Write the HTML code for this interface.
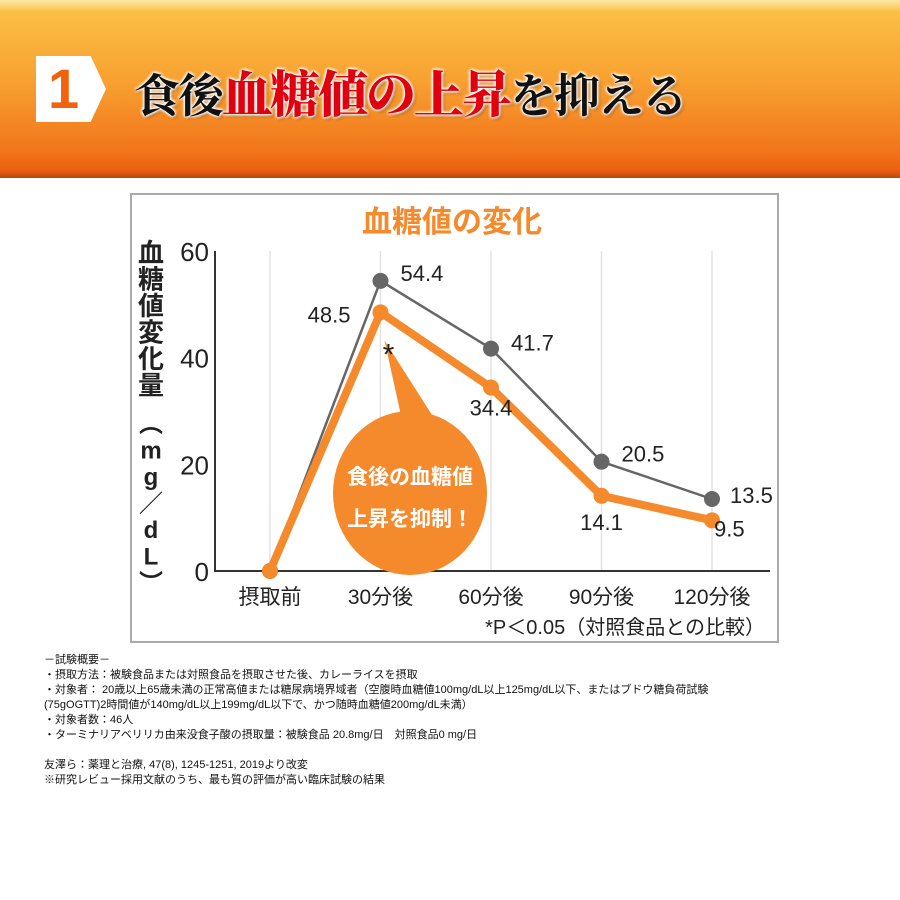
<!DOCTYPE html>
<html><head><meta charset="utf-8">
<style>
body{margin:0;width:900px;height:900px;background:#fff;overflow:hidden;font-family:"Liberation Sans","Noto Sans CJK JP",sans-serif;position:relative}
#hdr{position:absolute;left:0;top:0;width:900px;height:178px;background:linear-gradient(#fde7a8 0px,#fbbf45 12px,#f8a131 80px,#f2761b 150px,#ec6010 170px,#b84a08 178px)}
#num{position:absolute;left:36px;top:56px;width:70px;height:66px;background:#fff;clip-path:polygon(0 0,78% 0,100% 50%,78% 100%,0 100%)}
#num span{position:absolute;left:12px;top:0;font:bold 56px "Liberation Sans",sans-serif;color:#f2620e}
#title{position:absolute;left:134px;top:55px;font:bold 46px "Noto Serif CJK SC","Noto Sans CJK JP",serif;color:#111;letter-spacing:-2px;text-shadow:0 0 3px #fff,0 0 3px #fff,0 0 3px #fff,0 0 3px #fff,2px 2px 3px rgba(0,0,0,.4)}
#title b{color:#e00010;font-size:50px}
#notes{position:absolute;left:44px;top:653px;font:11px "Liberation Sans","Noto Sans CJK JP",sans-serif;line-height:15px;color:#111;white-space:pre}
</style></head><body>
<div id="hdr"></div>
<div id="num"><span>1</span></div>
<div id="title">食後<b>血糖値の上昇</b>を抑える</div>
<svg id="chart" width="900" height="900" style="position:absolute;left:0;top:0">
<rect x="131" y="194" width="647" height="448" fill="#fff" stroke="#aaa" stroke-width="2"/>
<text x="452" y="232" text-anchor="middle" font-size="30" font-weight="bold" fill="#f58a2c" font-family="Liberation Sans,Noto Sans CJK JP,sans-serif">血糖値の変化</text>
<g id="grid"></g><g id="axes"></g><g id="series"></g><g id="labels"></g>
</svg>
<div id="notes">－試験概要－
・摂取方法：被験食品または対照食品を摂取させた後、カレーライスを摂取
・対象者： 20歳以上65歳未満の正常高値または糖尿病境界域者（空腹時血糖値100mg/dL以上125mg/dL以下、またはブドウ糖負荷試験
(75gOGTT)2時間値が140mg/dL以上199mg/dL以下で、かつ随時血糖値200mg/dL未満）
・対象者数：46人
・ターミナリアベリリカ由来没食子酸の摂取量：被験食品 20.8mg/日　対照食品0 mg/日

友澤ら：薬理と治療, 47(8), 1245-1251, 2019より改変
※研究レビュー採用文献のうち、最も質の評価が高い臨床試験の結果</div>
<script>
const categories=["摂取前","30分後","60分後","90分後","120分後"];
const controlValues=[0,54.4,41.7,20.5,13.5];
const testValues=[0,48.5,34.4,14.1,9.5];
const yTicks=[0,20,40,60];
const NS="http://www.w3.org/2000/svg";
const X=i=>270+i*110.5;
const Y=v=>571-v*(320/60);
function mk(tag,attrs,parent,txt){const e=document.createElementNS(NS,tag);for(const k in attrs)e.setAttribute(k,attrs[k]);if(txt!==undefined)e.textContent=txt;document.getElementById(parent).appendChild(e);return e;}
const F="Liberation Sans,Noto Sans CJK JP,sans-serif";
categories.forEach((c,i)=>{
 let g=mk('line',{x1:X(i),x2:X(i),y1:Y(60),y2:Y(0),stroke:'#e3e3e3','stroke-width':1.5},'grid');
 
 
 let t=mk('text',{x:X(i),y:604,'text-anchor':'middle','font-size':21,fill:'#222','font-family':F},'axes',c);
 
 
});
yTicks.forEach(v=>{
 let t=mk('text',{x:209,y:Y(v)+10,'text-anchor':'end','font-size':26,fill:'#222','font-family':F},'axes',v);
 
 
});
let ax=mk('path',{d:`M215 ${Y(60)} V${Y(0)} H770`,fill:'none',stroke:'#333','stroke-width':2},'axes');


const yt="血糖値変化量";
[...yt].forEach((ch,i)=>{let t=mk('text',{x:151,y:262+i*26.5,'text-anchor':'middle','font-size':26,'font-weight':'bold',fill:'#222','font-family':F},'axes',ch);
 
 });
["︵","m","g","／","d","L","︶"].forEach((ch,i)=>{let t=mk('text',{x:151,y:432+i*26.5,'text-anchor':'middle','font-size':24,'font-weight':'bold',fill:'#222','font-family':F},'axes',ch);
 
 });
function series(vals,color,w,r,name){
 let p=mk('polyline',{points:vals.map((v,i)=>X(i)+','+Y(v)).join(' '),fill:'none',stroke:color,'stroke-width':w,'stroke-linejoin':'round'},'series');
 
 
 vals.forEach((v,i)=>{let c=mk('circle',{cx:X(i),cy:Y(v),r:r,fill:color},'series');
 
 });
}
series(controlValues,'#666',2.5,8,'control');
series(testValues,'#f58a2c',8,8,'test');
let b=mk('path',{d:`M${X(1)+4} ${Y(48.5)+28} L432 415 L402 420 Z`,fill:'#f58a2c'},'labels');


let cb=mk('ellipse',{cx:410,cy:493,rx:77,ry:82,fill:'#f58a2c'},'labels');


[["食後の血糖値",484],["上昇を抑制！",526]].forEach(([s,y])=>{let t=mk('text',{x:410,y:y,'text-anchor':'middle','font-size':21,'font-weight':'bold',fill:'#fff','font-family':F},'labels',s);
 
 });
const ctrlOff=[null,[20,0],[20,2],[20,0],[18,4]];
const testOff=[null,[-30,10],[0,28],[0,34],[2,16]];
controlValues.forEach((v,i)=>{if(!ctrlOff[i])return;let t=mk('text',{x:X(i)+ctrlOff[i][0],y:Y(v)+ctrlOff[i][1],'font-size':22,fill:'#222','font-family':F},'labels',v.toFixed(1));
 
 });
testValues.forEach((v,i)=>{if(!testOff[i])return;let t=mk('text',{x:X(i)+testOff[i][0],y:Y(v)+testOff[i][1],'text-anchor':i==1?'end':(i==4?'start':'middle'),'font-size':22,fill:'#222','font-family':F},'labels',v.toFixed(1));
 
 });
let st=mk('text',{x:X(1)+8,y:Y(48.5)+52,'text-anchor':'middle','font-size':30,fill:'#222','font-family':F},'labels','*');


let fn=mk('text',{x:765,y:634,'text-anchor':'end','font-size':20,fill:'#222','font-family':F},'labels','*P＜0.05（対照食品との比較）');


</script>
</body></html>
